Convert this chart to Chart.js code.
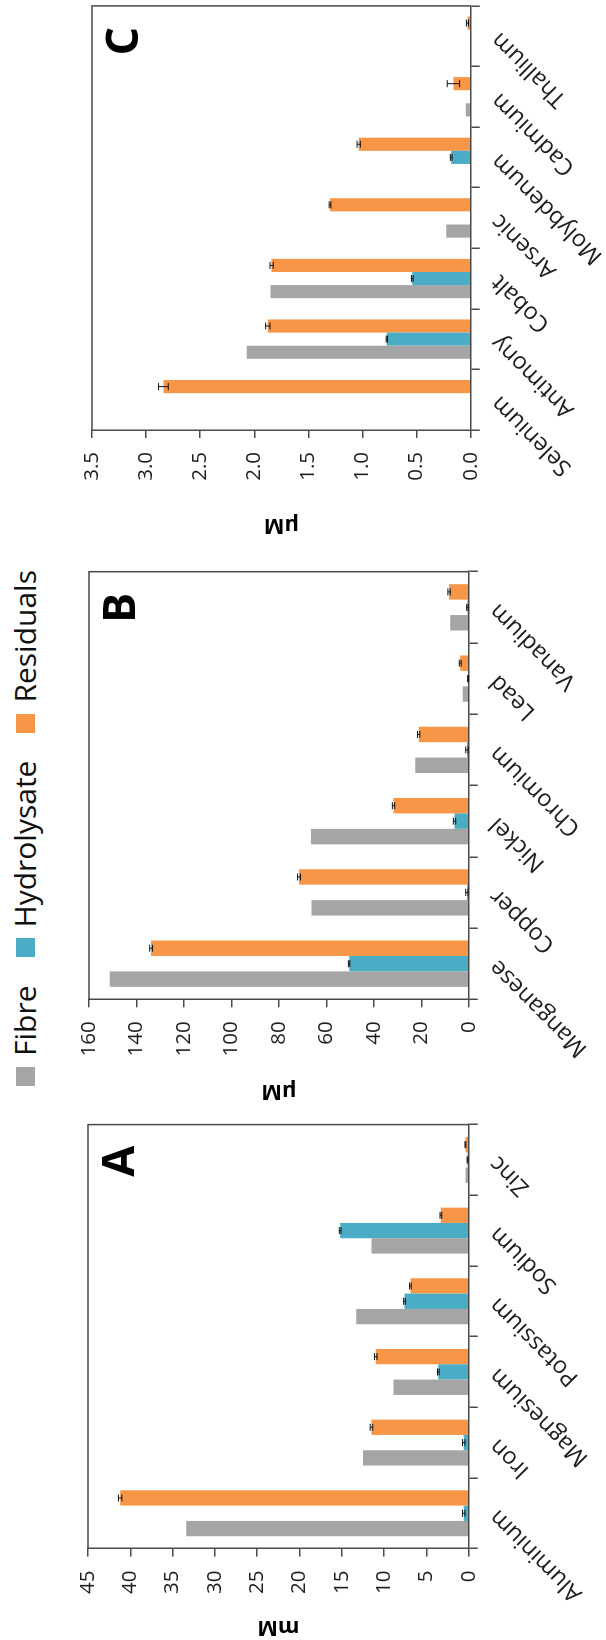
<!DOCTYPE html>
<html>
<head>
<meta charset="utf-8">
<script src="https://cdn.jsdelivr.net/npm/chart.js@4.4.1/dist/chart.umd.min.js"></script>
<style>
  html, body { margin: 0; padding: 0; background: #fff; overflow: hidden; }
  body { width: 606px; height: 1640px; position: relative; }
  /* the whole figure is laid out landscape, then turned a quarter turn */
  #board {
    position: absolute; left: 0; top: 0; width: 1640px; height: 606px;
    transform-origin: 0 0; transform: translate(0, 1640px) rotate(-90deg);
    background: #fff;
  }
  .panel { position: absolute; top: 0; height: 606px; }
  .panel canvas { display: block; }
  #legend {
    position: absolute; left: 554px; top: 10px; display: flex; align-items: center;
    font-family: 'Open Sans', sans-serif; font-size: 30px; line-height: 30px;
    color: #111; white-space: nowrap;
  }
  .item { display: flex; align-items: center; margin-right: 28px; }
  .sw { width: 19px; height: 19px; margin-right: 11px; }
</style>
</head>
<body>
<div id="board">
  <div id="legend"></div>
  <div class="panel" style="left:0px;width:530px"><canvas id="chartA" width="530" height="606"></canvas></div>
  <div class="panel" style="left:536px;width:546px"><canvas id="chartB" width="546" height="606"></canvas></div>
  <div class="panel" style="left:1102px;width:538px"><canvas id="chartC" width="538" height="606"></canvas></div>
</div>
<script>
// ---- series ----
const seriesNames = ['Fibre', 'Hydrolysate', 'Residuals'];
const seriesColors = ['#A5A5A5', '#4BACC6', '#F79646'];

// ---- panel A: major elements (mM) ----
const catsA  = ['Aluminium', 'Iron', 'Magnesium', 'Potassium', 'Sodium', 'Zinc'];
const fibreA = [33.4, 12.5, 8.9, 13.3, 11.5, 0.4];
const hydroA = [0.6, 0.6, 3.6, 7.6, 15.2, 0.15];
const residA = [41.2, 11.5, 11.0, 6.9, 3.3, 0.4];
const errHydroA = [0.15, 0.15, 0.1, 0.1, 0.1, 0.05];
const errResidA = [0.2, 0.15, 0.15, 0.1, 0.1, 0.05];
const tickValsA = [0, 5, 10, 15, 20, 25, 30, 35, 40, 45];
const tickTextA = ['0', '5', '10', '15', '20', '25', '30', '35', '40', '45'];

// ---- panel B: minor elements (µM) ----
const catsB  = ['Manganese', 'Copper', 'Nickel', 'Chromium', 'Lead', 'Vanadium'];
const fibreB = [151.2, 66.2, 66.5, 22.6, 2.6, 7.8];
const hydroB = [50.4, 0.8, 6.0, 0.8, 0.3, 0.6];
const residB = [133.8, 71.5, 31.7, 21.1, 3.6, 8.3];
const errHydroB = [0.3, 0.5, 0.5, 0.5, 0.2, 0.3];
const errResidB = [0.6, 0.6, 0.5, 0.5, 0.4, 0.5];
const tickValsB = [0, 20, 40, 60, 80, 100, 120, 140, 160];
const tickTextB = ['0', '20', '40', '60', '80', '100', '120', '140', '160'];

// ---- panel C: trace elements (µM) ----
const catsC  = ['Selenium', 'Antimony', 'Cobalt', 'Arsenic', 'Molybdenum', 'Cadmium', 'Thallium'];
const fibreC = [0, 2.07, 1.85, 0.225, 0, 0.046, 0];
const hydroC = [0, 0.775, 0.54, 0, 0.18, 0, 0];
const residC = [2.84, 1.875, 1.84, 1.30, 1.035, 0.16, 0.03];
const errHydroC = [0, 0.006, 0.008, 0, 0.008, 0, 0];
const errResidC = [0.045, 0.02, 0.015, 0.008, 0.015, 0.057, 0.01];
const tickValsC = [0, 0.5, 1, 1.5, 2, 2.5, 3, 3.5];
const tickTextC = ['0.0', '0.5', '1.0', '1.5', '2.0', '2.5', '3.0', '3.5'];

const FONT = "'Open Sans', sans-serif";
const AXIS = '#4a4a4a';
const TXT = '#1e1e1e';

// legend row shared by the three panels
const legendEl = document.getElementById('legend');
seriesNames.forEach((name, i) => {
  const item = document.createElement('div');
  item.className = 'item';
  const sw = document.createElement('div');
  sw.className = 'sw';
  sw.style.background = seriesColors[i];
  const label = document.createElement('span');
  label.textContent = name;
  item.appendChild(sw);
  item.appendChild(label);
  legendEl.appendChild(item);
});

// box outline: top and right edges of the plot area
const framePlugin = {
  id: 'frame',
  afterDraw(chart) {
    const { ctx, chartArea: a } = chart;
    ctx.save();
    ctx.strokeStyle = AXIS;
    ctx.lineWidth = 1.5;
    ctx.beginPath();
    ctx.moveTo(a.left, a.top);
    ctx.lineTo(a.right, a.top);
    ctx.lineTo(a.right, a.bottom);
    ctx.stroke();
    ctx.restore();
  }
};

// standard-deviation whiskers on the bars that carry an err array
const errorBarPlugin = {
  id: 'errorBars',
  afterDatasetsDraw(chart) {
    const ctx = chart.ctx;
    const ys = chart.scales.y;
    chart.data.datasets.forEach((ds, i) => {
      if (!ds.err) return;
      const meta = chart.getDatasetMeta(i);
      meta.data.forEach((bar, j) => {
        const v = ds.data[j];
        const e = ds.err[j];
        if (!v) return;
        const y1 = ys.getPixelForValue(v - e);
        const y2 = ys.getPixelForValue(v + e);
        const c = 3.5;
        ctx.save();
        ctx.strokeStyle = '#111';
        ctx.lineWidth = 1;
        ctx.beginPath();
        ctx.moveTo(bar.x, y1); ctx.lineTo(bar.x, y2);
        ctx.moveTo(bar.x - c, y1); ctx.lineTo(bar.x + c, y1);
        ctx.moveTo(bar.x - c, y2); ctx.lineTo(bar.x + c, y2);
        ctx.stroke();
        ctx.restore();
      });
    });
  }
};

// panel letter in the upper right of the plot area
const letterPlugin = {
  id: 'panelLetter',
  afterDraw(chart, args, opts) {
    const { ctx, chartArea: a } = chart;
    ctx.save();
    ctx.font = "bold 45px " + FONT;
    ctx.fillStyle = '#000';
    ctx.textAlign = 'right';
    ctx.textBaseline = 'alphabetic';
    ctx.fillText(opts.text, a.right - 21, a.top + 46);
    ctx.restore();
  }
};

function makePanel(id, cats, fibre, hydro, resid, errH, errR, tickVals, tickText, unit, letter, g) {
  const series = [fibre, hydro, resid];
  const errs = [null, errH, errR];
  return new Chart(document.getElementById(id), {
    type: 'bar',
    data: {
      labels: cats,
      datasets: series.map((d, i) => ({
        label: seriesNames[i],
        data: d,
        backgroundColor: seriesColors[i],
        borderWidth: 0,
        err: errs[i]
      }))
    },
    options: {
      responsive: false,
      animation: false,
      devicePixelRatio: 1,
      layout: { padding: { top: g.padTop, right: g.padRight, left: 0, bottom: 0 } },
      datasets: { bar: { categoryPercentage: 0.65, barPercentage: 1.0 } },
      plugins: {
        legend: { display: false },
        tooltip: { enabled: false },
        panelLetter: { text: letter }
      },
      scales: {
        x: {
          grid: { offset: true, drawOnChartArea: false, drawTicks: true, tickLength: 9, color: AXIS, lineWidth: 1.5 },
          border: { display: true, color: AXIS, width: 1.5 },
          ticks: {
            minRotation: 45, maxRotation: 45, autoSkip: false, padding: 6,
            color: TXT, font: { family: FONT, size: 23.5 }
          },
          afterFit: (s) => { s.height = g.xAxisHeight; }
        },
        y: {
          min: tickVals[0],
          max: tickVals[tickVals.length - 1],
          afterBuildTicks: (s) => { s.ticks = tickVals.map(v => ({ value: v })); },
          grid: { drawOnChartArea: false, drawTicks: true, tickLength: 8, color: AXIS, lineWidth: 1.5 },
          border: { display: true, color: AXIS, width: 1.5 },
          ticks: {
            padding: 14, color: TXT, font: { family: FONT, size: 20.5 },
            callback: (v, i) => tickText[i]
          },
          title: {
            display: true, text: unit, color: '#000', padding: 0,
            font: { family: FONT, size: 22, weight: 'bold' }
          },
          afterFit: (s) => { s.width = g.yAxisWidth; }
        }
      }
    },
    plugins: [framePlugin, errorBarPlugin, letterPlugin]
  });
}

Promise.all([
  document.fonts.load("21px 'Open Sans'"),
  document.fonts.load("bold 45px 'Open Sans'")
]).catch(() => {}).then(() => {
  makePanel('chartA', catsA, fibreA, hydroA, residA, errHydroA, errResidA, tickValsA, tickTextA, 'mM', 'A',
    { yAxisWidth: 91.4, padTop: 88, padRight: 14.6, xAxisHeight: 137.2 });
  makePanel('chartB', catsB, fibreB, hydroB, residB, errHydroB, errResidB, tickValsB, tickTextB, 'µM', 'B',
    { yAxisWidth: 104.7, padTop: 88.9, padRight: 13.7, xAxisHeight: 137.2 });
  makePanel('chartC', catsC, fibreC, hydroC, residC, errHydroC, errResidC, tickValsC, tickTextC, 'µM', 'C',
    { yAxisWidth: 108, padTop: 92, padRight: 5.9, xAxisHeight: 135.3 });
});
</script>
</body>
</html>
